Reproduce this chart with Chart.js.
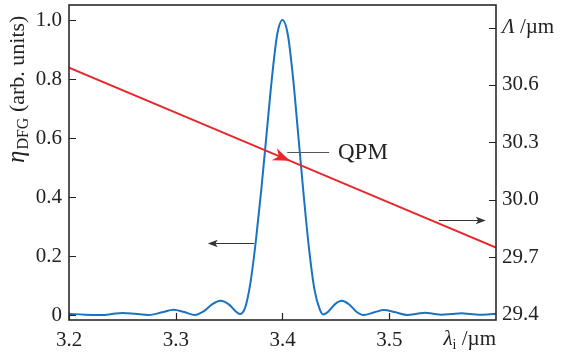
<!DOCTYPE html>
<html><head><meta charset="utf-8">
<script src="https://cdn.jsdelivr.net/npm/chart.js@4.4.0/dist/chart.umd.min.js"></script>
<style>html,body{margin:0;padding:0;background:#fff;}#wrap{width:563px;height:356px;}</style>
</head><body><div id="wrap"><canvas id="c" width="563" height="356"></canvas></div>
<script>
// Idler wavelength (µm) and DFG efficiency (arb. units)
const lambdaX = [3.200,3.215,3.231,3.240,3.250,3.262,3.2745,3.287,3.298,3.308,3.318,3.326,3.334,3.342,3.350,3.356,3.360,3.365,3.370,3.375,3.380,3.385,3.390,3.395,3.400,3.405,3.410,3.415,3.420,3.425,3.430,3.435,3.438,3.443,3.449,3.4555,3.463,3.469,3.476,3.486,3.495,3.506,3.517,3.526,3.534,3.541,3.549,3.558,3.568,3.576,3.584,3.592,3.600];
const etaDFG  = [0.004,0.001,0.000,0.003,0.007,0.004,0.000,0.009,0.018,0.010,0.000,0.012,0.036,0.048,0.035,0.013,0.003,0.025,0.11,0.25,0.42,0.61,0.80,0.95,1.00,0.95,0.80,0.60,0.40,0.22,0.085,0.018,0.002,0.012,0.036,0.048,0.034,0.012,0.000,0.009,0.017,0.009,0.000,0.004,0.008,0.004,0.001,0.003,0.006,0.003,0.001,0.002,0.004];
// QPM period (µm)
const lambdaQPM = [3.2,3.3,3.4,3.5,3.6];
const periodQPM = [30.69,30.455,30.22,29.985,29.75];
// tick values
const xTicks = [3.2,3.3,3.4,3.5];
const leftTicks = [0,0.2,0.4,0.6,0.8,1.0];
const rightTicks = [29.4,29.7,30.0,30.3,30.6,30.9];
// annotation anchors (data coords)
const qpmTipX = 3.407;
const qpmLabel = {x1:3.4044, x2:3.4437, y:0.553, tx:3.452, text:'QPM'};
const leftArrow = {from:3.3735, to:3.330, y:0.243};
const rightArrow = {from:3.5464, to:3.5904, y:0.3215};

const SERIF = '"Liberation Serif","Times New Roman",serif';
const INK = '#222';

function arrowHead(ctx, tx, ty, ang, len, hw, notch){
  const c=Math.cos(ang), s=Math.sin(ang);
  const bx=tx-len*c, by=ty-len*s;
  ctx.beginPath();
  ctx.moveTo(tx,ty);
  ctx.lineTo(bx - hw*s, by + hw*c);
  ctx.lineTo(tx-(len*notch)*c, ty-(len*notch)*s);
  ctx.lineTo(bx + hw*s, by - hw*c);
  ctx.closePath();
  ctx.fill();
}

const deco = {
  id:'deco',
  beforeDatasetsDraw(chart){
    const {ctx, chartArea:a, scales:{x,y,y2}} = chart;
    ctx.save();
    ctx.strokeStyle=INK; ctx.lineWidth=1.2;
    ctx.beginPath();
    xTicks.forEach(v=>{const px=Math.round(x.getPixelForValue(v))+0.5; ctx.moveTo(px,a.bottom); ctx.lineTo(px,a.bottom-7);});
    leftTicks.forEach(v=>{const py=Math.round(y.getPixelForValue(v))+0.5; ctx.moveTo(a.left,py); ctx.lineTo(a.left+7,py);});
    rightTicks.forEach(v=>{const py=Math.round(y2.getPixelForValue(v))+0.5; ctx.moveTo(a.right,py); ctx.lineTo(a.right-7,py);});
    ctx.stroke();
    ctx.restore();
  },
  afterDraw(chart){
    const {ctx, chartArea:a, scales:{x,y,y2}} = chart;
    ctx.save();
    // frame
    ctx.strokeStyle='#2a2a2a'; ctx.lineWidth=1.6;
    ctx.strokeRect(a.left, a.top, a.right-a.left, a.bottom-a.top);

    // red arrowhead on QPM line
    const p0x=x.getPixelForValue(lambdaQPM[0]), p0y=y2.getPixelForValue(periodQPM[0]);
    const p1x=x.getPixelForValue(lambdaQPM[lambdaQPM.length-1]), p1y=y2.getPixelForValue(periodQPM[periodQPM.length-1]);
    const ang=Math.atan2(p1y-p0y,p1x-p0x);
    const tx=x.getPixelForValue(qpmTipX);
    const ty=p0y+(tx-p0x)*Math.tan(ang);
    ctx.fillStyle='#e8262b';
    arrowHead(ctx, tx, ty, ang, 17, 6.5, 0.7);

    // QPM leader + label
    ctx.strokeStyle='#555'; ctx.lineWidth=1.2;
    ctx.beginPath();
    const ly=Math.round(y.getPixelForValue(qpmLabel.y))+0.5;
    ctx.moveTo(x.getPixelForValue(qpmLabel.x1), ly);
    ctx.lineTo(x.getPixelForValue(qpmLabel.x2), ly);
    ctx.stroke();
    ctx.fillStyle=INK; ctx.font='23px '+SERIF; ctx.textBaseline='middle'; ctx.textAlign='left';
    ctx.fillText(qpmLabel.text, x.getPixelForValue(qpmLabel.tx), ly+0.5);

    // black arrows
    ctx.strokeStyle='#333'; ctx.fillStyle='#333'; ctx.lineWidth=1.1;
    [leftArrow, rightArrow].forEach(ar=>{
      const py=Math.round(y.getPixelForValue(ar.y))+0.5;
      const fx=x.getPixelForValue(ar.from), tox=x.getPixelForValue(ar.to);
      const dir = tox>fx?1:-1;
      ctx.beginPath(); ctx.moveTo(fx,py); ctx.lineTo(tox-dir*6,py); ctx.stroke();
      arrowHead(ctx, tox, py, dir>0?0:Math.PI, 10, 3.8, 0.75);
    });

    // y title (left)
    ctx.fillStyle=INK; ctx.textBaseline='alphabetic'; ctx.textAlign='left';
    ctx.translate(24,163); ctx.rotate(-Math.PI/2);
    let cx=0;
    ctx.font='italic 25px '+SERIF; ctx.fillText('η',cx,0); cx+=ctx.measureText('η').width+1;
    ctx.font='16px '+SERIF; ctx.fillText('DFG',cx,4); cx+=ctx.measureText('DFG').width;
    ctx.font='22px '+SERIF; ctx.fillText(' (arb. units)',cx,0);
    ctx.setTransform(1,0,0,1,0,0);

    // right axis unit label at top tick
    const ry=y2.getPixelForValue(rightTicks[rightTicks.length-1]);
    let rx=a.right+6;
    ctx.textBaseline='middle';
    ctx.font='italic 21px '+SERIF; ctx.fillText('Λ',rx,ry); rx+=ctx.measureText('Λ').width;
    ctx.font='21px '+SERIF; ctx.fillText(' /µm',rx,ry);

    // x axis label at right end
    ctx.textBaseline='alphabetic';
    const parts=[['italic 21px '+SERIF,'λ',0],['14px '+SERIF,'i',4],['21px '+SERIF,' /µm',0]];
    let tw=0; parts.forEach(p=>{ctx.font=p[0]; tw+=ctx.measureText(p[1]).width;});
    let bx=a.right-tw; const by=345;
    parts.forEach(p=>{ctx.font=p[0]; ctx.fillText(p[1],bx,by+p[2]); bx+=ctx.measureText(p[1]).width;});
    ctx.restore();
  }
};

const tickFont={family:SERIF,size:21};
new Chart(document.getElementById('c'),{
  type:'line',
  data:{datasets:[
    {data:lambdaQPM.map((v,i)=>({x:v,y:periodQPM[i]})), yAxisID:'y2', borderColor:'#e8262b', borderWidth:2, pointRadius:0, tension:0},
    {data:lambdaX.map((v,i)=>({x:v,y:etaDFG[i]})), yAxisID:'y', borderColor:'#1a73c2', borderWidth:2, pointRadius:0, cubicInterpolationMode:'monotone'}
  ]},
  options:{
    responsive:false, animation:false, devicePixelRatio:1,
    layout:{padding:{top:5,left:0,right:0,bottom:0}},
    plugins:{legend:{display:false},tooltip:{enabled:false}},
    scales:{
      x:{type:'linear',min:3.2,max:3.6,
        afterBuildTicks:s=>{s.ticks=xTicks.map(v=>({value:v}));},
        afterFit:s=>{s.height=36;s.paddingLeft=0;s.paddingRight=0;},
        grid:{display:false,drawTicks:false},border:{display:false},
        ticks:{font:tickFont,color:INK,padding:8,maxRotation:0,callback:v=>v.toFixed(1)}},
      y:{type:'linear',position:'left',min:-0.017,max:1.051,
        afterBuildTicks:s=>{s.ticks=leftTicks.map(v=>({value:v}));},
        afterFit:s=>{s.width=69;s.paddingTop=0;s.paddingBottom=0;},
        grid:{display:false,drawTicks:false},border:{display:false},
        ticks:{font:tickFont,color:INK,padding:7,callback:v=>v===0?'0':v.toFixed(1)}},
      y2:{type:'linear',position:'right',min:29.371,max:31.018,
        afterBuildTicks:s=>{s.ticks=rightTicks.map(v=>({value:v}));},
        afterFit:s=>{s.width=67;s.paddingTop=0;s.paddingBottom=0;},
        grid:{display:false,drawTicks:false},border:{display:false},
        ticks:{font:tickFont,color:INK,padding:6,callback:v=>v>30.8?'':v.toFixed(1)}}
    }
  },
  plugins:[deco]
});
</script></body></html>
